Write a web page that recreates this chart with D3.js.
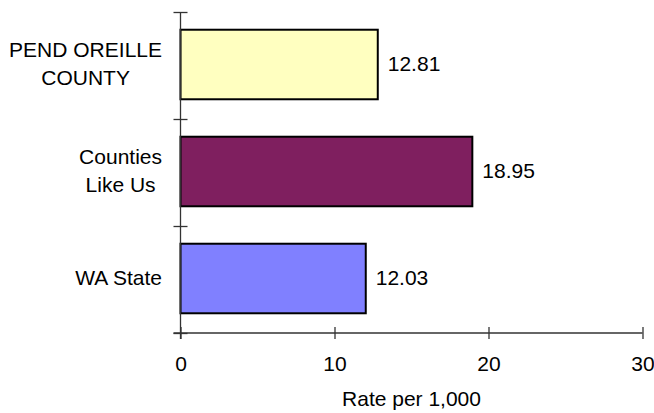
<!DOCTYPE html>
<html>
<head>
<meta charset="utf-8">
<script src="https://cdn.jsdelivr.net/npm/d3@7"></script>
<style>
  html, body { margin: 0; padding: 0; background: #fff; }
  svg { display: block; }
  text { font-family: Arial, "Liberation Sans", sans-serif; font-size: 21px; fill: #000; }
</style>
</head>
<body>
<svg id="chart" width="654" height="413"></svg>
<script>
const categories = [["PEND OREILLE", "COUNTY"], ["Counties", "Like Us"], ["WA State"]];
const values = [12.81, 18.95, 12.03];
const colors = ["#FFFFC0", "#7F1F5F", "#8080FF"];
const xTicks = [0, 10, 20, 30];
const xTitle = "Rate per 1,000";

const svg = d3.select("#chart");
const x0 = 180.5, x1 = 642.5, yTop = 12, yBot = 333;
const axisColor = "#333";

const x = d3.scaleLinear().domain([0, 30]).range([x0, x1]);
const y = d3.scaleBand().domain(d3.range(categories.length)).range([yTop, yBot])
  .paddingInner(0.35).paddingOuter(0.175);
const yb = d3.scaleLinear().domain([0, categories.length]).range([yTop, yBot]);

// bars
svg.append("g").selectAll("rect").data(values).join("rect")
  .attr("x", x(0))
  .attr("y", (d, i) => y(i) - 1)
  .attr("width", d => x(d) - x(0))
  .attr("height", y.bandwidth())
  .attr("fill", (d, i) => colors[i])
  .attr("stroke", "#000")
  .attr("stroke-width", 2);

// x axis
const gx = svg.append("g").attr("transform", `translate(0,${yBot})`)
  .call(d3.axisBottom(x).tickValues(xTicks).tickSize(6).tickSizeOuter(0).tickPadding(22));
gx.select(".domain").attr("stroke", axisColor).attr("stroke-width", 1.3).attr("d", `M${x0 - 7},0H${x1}`);
gx.selectAll(".tick line").attr("y1", -6).attr("y2", 6).attr("stroke", axisColor).attr("stroke-width", 1.3);
gx.selectAll(".tick text").attr("dy", null).attr("y", 37.5)
  .style("font-family", "Arial, 'Liberation Sans', sans-serif").style("font-size", "21px");

// y axis (ticks at category boundaries)
const gy = svg.append("g").attr("transform", `translate(${x0},0)`)
  .call(d3.axisLeft(yb).tickValues(d3.range(categories.length + 1)).tickFormat("").tickSize(7).tickSizeOuter(0));
gy.select(".domain").attr("stroke", axisColor).attr("stroke-width", 1.3).attr("d", `M0,${yTop}V${yBot + 6}`);
gy.selectAll(".tick line").attr("x1", 7).attr("x2", -7).attr("stroke", axisColor).attr("stroke-width", 1.3);

// category labels (multi-line, lines centred, block right-aligned)
const labelRight = 162;
categories.forEach((lines, i) => {
  const cy = y(i) + y.bandwidth() / 2 - 1;
  const g = svg.append("g");
  const n = lines.length;
  const ts = lines.map((ln, k) => g.append("text")
    .attr("text-anchor", "middle")
    .attr("y", cy + 6.5 + (k - (n - 1) / 2) * 28)
    .text(ln));
  const w = d3.max(ts, t => t.node().getComputedTextLength());
  ts.forEach(t => t.attr("x", labelRight - w / 2));
});

// value labels
svg.append("g").selectAll("text").data(values).join("text")
  .attr("x", d => x(d) + 10)
  .attr("y", (d, i) => y(i) + y.bandwidth() / 2 - 1 + 6.5)
  .text(d => d.toFixed(2));

// x title
svg.append("text")
  .attr("x", (x0 + x1) / 2)
  .attr("y", 406)
  .attr("text-anchor", "middle")
  .text(xTitle);
</script>
</body>
</html>
